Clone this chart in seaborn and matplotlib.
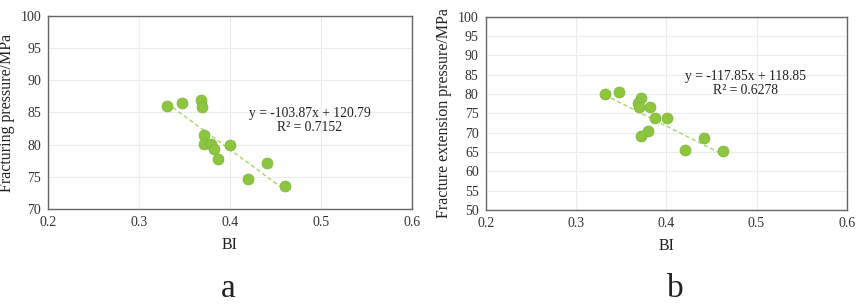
#%% imports
import numpy as np
import pandas as pd
import matplotlib.pyplot as plt
import seaborn as sns

#%% data
bi_a = [0.331, 0.347, 0.368, 0.369, 0.372, 0.371, 0.379, 0.382, 0.387, 0.400, 0.441, 0.420, 0.461]
frac_a = [86.0, 86.4, 86.9, 85.8, 81.5, 80.1, 80.1, 79.3, 77.7, 80.0, 77.2, 74.6, 73.5]

bi_b = [0.332, 0.348, 0.372, 0.369, 0.370, 0.382, 0.388, 0.401, 0.380, 0.372, 0.421, 0.442, 0.463]
frac_b = [79.9, 80.6, 78.9, 77.6, 76.7, 76.7, 73.7, 73.7, 70.5, 69.1, 65.5, 68.6, 65.3]

fit_a = (-103.87, 120.79, 0.7152)
fit_b = (-117.85, 118.85, 0.6278)

df_a = pd.DataFrame({"BI": bi_a, "p": frac_a})
df_b = pd.DataFrame({"BI": bi_b, "p": frac_b})

#%% plot
sns.set_style("white")
plt.rcParams["font.family"] = ["Liberation Serif", "DejaVu Serif"]

fig = plt.figure(figsize=(8.58, 3.06), dpi=100)
ax1 = fig.add_axes([0.056, 0.317, 0.424, 0.631])
ax2 = fig.add_axes([0.566, 0.314, 0.421, 0.632])

panels = [
    (ax1, df_a, fit_a, "Fracturing pressure/MPa", (70, 100), 83.7, "a", 0.266),
    (ax2, df_b, fit_b, "Fracture extension pressure/MPa", (50, 100), 82.6, "b", 0.787),
]

for ax, df, fit, ylab, ylim, ytxt, tag, xtag in panels:
    k, b, r2 = fit
    xs = np.array([df["BI"].min(), df["BI"].max()])
    ax.plot(xs, k * xs + b, ls=(0, (3, 2)), color="#a8d46e", lw=1.0, zorder=2)
    sns.scatterplot(data=df, x="BI", y="p", ax=ax, s=62, color="#8cc63f",
                    edgecolor="#7db536", linewidth=0.5, zorder=3)
    ax.set_xlim(0.2, 0.6)
    ax.set_ylim(*ylim)
    ax.set_xticks(np.arange(0.2, 0.61, 0.1))
    ax.set_xticklabels(["0.2", "0.3", "0.4", "0.5", "0.6"])
    ax.set_yticks(np.arange(ylim[0], ylim[1] + 1, 5))
    ax.grid(True, color="#ececec", lw=0.8)
    ax.set_axisbelow(True)
    for sp in ax.spines.values():
        sp.set_color("#666666")
        sp.set_linewidth(1.0)
    ax.tick_params(length=0, labelsize=10, pad=5, colors="#333333")
    ax.set_xlabel("BI", fontsize=11.5, labelpad=6, color="#222222")
    ax.set_ylabel(ylab, fontsize=11.5, labelpad=4, color="#222222")
    sign = "-" if k < 0 else ""
    ax.text(0.488, ytxt, f"y = {sign}{abs(k):.2f}x + {b:.2f}\nR² = {r2:.4f}",
            ha="center", va="center", fontsize=9.8, linespacing=1.1, color="#222222")
    fig.text(xtag, 0.03, tag, ha="center", va="baseline", fontsize=24, color="#222222")

plt.savefig("out.png", dpi=100)
